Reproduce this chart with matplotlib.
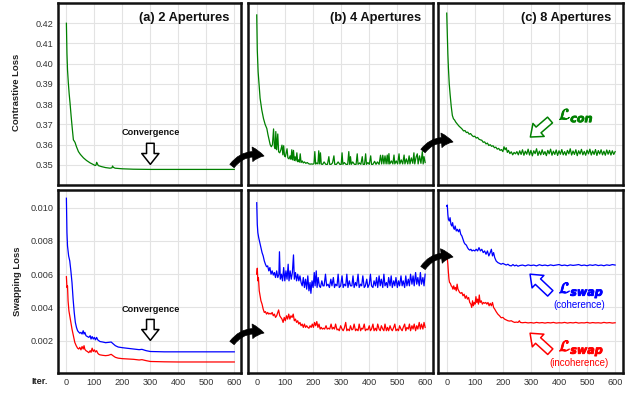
import matplotlib
matplotlib.use('Agg')
import matplotlib.pyplot as plt
from matplotlib.patches import FancyArrowPatch
import matplotlib.patheffects as pe

plt.rcParams['font.family'] = ['Liberation Sans', 'DejaVu Sans']

# ---------------- data (iteration, loss) ----------------
iter_ticks = [0, 100, 200, 300, 400, 500, 600]
con_ticks = [0.35, 0.36, 0.37, 0.38, 0.39, 0.40, 0.41, 0.42]
swap_ticks = [0.002, 0.004, 0.006, 0.008, 0.010]
panel_titles = ["(a) 2 Apertures", "(b) 4 Apertures", "(c) 8 Apertures"]

a_con = [(0,0.420),(2,0.405),(4,0.397),(7,0.3904),(10,0.385),(13,0.3806),(17,0.374),(21,0.368),
         (25,0.3624),(28,0.3618),(31,0.3611),(36,0.3590),(43,0.3566),(50,0.3552),(61,0.3535),
         (72,0.3522),(85,0.3510),(95,0.3503),(103,0.3497),(106,0.3500),(108,0.3513),(111,0.3505),
         (114,0.3497),(125,0.3492),(140,0.3487),(156,0.3484),(163,0.3486),(165,0.3495),(168,0.3488),
         (174,0.3484),(200,0.3481),(239,0.3479),(300,0.3478),(400,0.3478),(500,0.3478),(600,0.3478)]

b_con = [(0,0.4241),(2,0.4068),(5,0.3960),(8,0.3905),(12,0.3830),(18,0.3772),(24,0.3730),(30,0.3700),(36,0.3680),(40,0.3650),
         (44,0.3625),(48,0.3600),(52,0.3590),(56,0.3600),(60,0.3678),(63,0.3590),(66,0.3580),(68,0.3665),(71,0.3575),(75,0.3653),
         (78,0.3565),(82,0.3560),(86,0.3575),(90,0.3598),(93,0.3550),(96,0.3595),(99,0.3545),(102,0.3540),(105,0.3560),(108,0.3580),
         (111,0.3535),(115,0.3530),(119,0.3545),(122,0.3528),(125,0.3575),(128,0.3525),(131,0.3572),(134,0.3522),(137,0.3540),(140,0.3520),
         (143,0.3560),(146,0.3516),(149,0.3525),(152,0.3514),(155,0.3555),(158,0.3512),(162,0.3520),(166,0.3510),(170,0.3515),(175,0.3508),
         (180,0.3512),(185,0.3506),(190,0.3504),(195,0.3505),(200,0.3504),(204,0.3506),(207,0.3566),(210,0.3504),(214,0.3510),(218,0.3505),
         (221,0.3570),(224,0.3505),(227,0.3560),(230,0.3504),(235,0.3503),(240,0.3515),(246,0.3503),(252,0.3503),(257,0.3541),(260,0.3503),
         (265,0.3503),(270,0.3510),(275,0.3545),(278,0.3503),(284,0.3503),(290,0.3515),(296,0.3503),(301,0.3503),(304,0.3560),(307,0.3503),
         (312,0.3512),(318,0.3503),(324,0.3503),(328,0.3566),(331,0.3503),(334,0.3541),(337,0.3503),(342,0.3515),(348,0.3503),(354,0.3503),
         (358,0.3555),(361,0.3503),(366,0.3510),(371,0.3503),(376,0.3541),(379,0.3503),(384,0.3503),(388,0.3555),(391,0.3503),(396,0.3512),
         (401,0.3503),(406,0.3545),(409,0.3503),(414,0.3503),(420,0.3518),(425,0.3503),(430,0.3515),(436,0.3503),(441,0.3548),(445,0.3505),
         (449,0.3548),(453,0.3505),(457,0.3545),(461,0.3505),(465,0.3549),(468,0.3505),(471,0.3556),(474,0.3505),(480,0.3520),(485,0.3505),
         (489,0.3549),(492,0.3505),(497,0.3520),(502,0.3505),(507,0.3555),(510,0.3505),(515,0.3525),(520,0.3505),(525,0.3549),(528,0.3505),
         (533,0.3530),(538,0.3505),(543,0.3545),(546,0.3505),(551,0.3535),(556,0.3508),(560,0.3560),(563,0.3505),(568,0.3540),(572,0.3555),
         (575,0.3505),(580,0.3545),(585,0.3508),(590,0.3566),(593,0.3505),(596,0.3541),(600,0.3512)]

c_con = [(0,0.4250),(2,0.4150),(4,0.4050),(6,0.3980),(9,0.3900),(12,0.3850),(16,0.3790),(20,0.3745),(24,0.3728),(28,0.3722),
         (32,0.3712),(36,0.3705),(40,0.3698),(45,0.3690),(50,0.3684),(55,0.3677),(60,0.3668),(65,0.3670),(70,0.3660),(75,0.3662),
         (80,0.3652),(85,0.3655),(90,0.3646),(95,0.3640),(100,0.3642),(105,0.3633),(110,0.3636),(115,0.3627),(120,0.3624),(125,0.3622),
         (130,0.3612),(135,0.3614),(140,0.3604),(145,0.3608),(150,0.3596),(155,0.3600),(160,0.3592),(165,0.3595),(170,0.3585),(175,0.3588),
         (180,0.3578),(185,0.3582),(190,0.3572),(195,0.3576),(200,0.3566),(204,0.3590),(208,0.3575),(212,0.3585),(216,0.3562),(220,0.3572),
         (225,0.3556),(230,0.3565),(235,0.3550),(240,0.3562),(245,0.3555),(250,0.3566),(255,0.3550),(260,0.3570),(265,0.3552),(270,0.3575),
         (275,0.3548),(280,0.3568),(285,0.3553),(290,0.3578),(295,0.3549),(300,0.3572),(305,0.3545),(310,0.3570),(315,0.3556),(320,0.3580),
         (325,0.3547),(330,0.3568),(335,0.3550),(340,0.3575),(345,0.3552),(350,0.3566),(355,0.3546),(360,0.3572),(365,0.3555),(370,0.3578),
         (375,0.3548),(380,0.3568),(385,0.3552),(390,0.3574),(395,0.3547),(400,0.3570),(405,0.3553),(410,0.3576),(415,0.3550),(420,0.3566),
         (425,0.3548),(430,0.3572),(435,0.3555),(440,0.3580),(445,0.3549),(450,0.3569),(455,0.3552),(460,0.3575),(465,0.3546),(470,0.3570),
         (475,0.3554),(480,0.3577),(485,0.3550),(490,0.3567),(495,0.3548),(500,0.3573),(505,0.3555),(510,0.3578),(515,0.3549),(520,0.3569),
         (525,0.3552),(530,0.3576),(535,0.3547),(540,0.3571),(545,0.3554),(550,0.3575),(555,0.3550),(560,0.3568),(565,0.3548),(570,0.3574),
         (575,0.3553),(580,0.3572),(585,0.3549),(590,0.3570),(595,0.3552),(600,0.3566)]

a_coh = [(0,0.01057),(1,0.0095),(2,0.0085),(4,0.0077),(8,0.0071),(12,0.0068),(16,0.0062),(20,0.0055),(24,0.0045),(28,0.0037),
         (32,0.0031),(36,0.0028),(40,0.0026),(44,0.00252),(48,0.00245),(52,0.0025),(56,0.0024),(60,0.0026),(63,0.0024),(66,0.0025),
         (70,0.0023),(75,0.00225),(80,0.0022),(85,0.0023),(88,0.0021),(92,0.00225),(96,0.0021),(100,0.0022),(104,0.00205),(108,0.0022),
         (112,0.00205),(116,0.0020),(120,0.00195),(130,0.00192),(140,0.00188),(150,0.0019),(160,0.00192),(168,0.0018),(175,0.0017),(185,0.00162),
         (200,0.00158),(220,0.00154),(240,0.0015),(260,0.00146),(270,0.00148),(285,0.0014),(300,0.00135),(350,0.00133),(400,0.00133),(500,0.00133),
         (600,0.00133)]

a_inc = [(0,0.00585),(2,0.0052),(4,0.0053),(6,0.0044),(9,0.0038),(12,0.0035),(16,0.0031),(20,0.0027),(25,0.0023),(30,0.0019),
         (35,0.0017),(40,0.00155),(44,0.00150),(48,0.00160),(52,0.00145),(56,0.00165),(60,0.00150),(63,0.00170),(66,0.00148),(70,0.00140),
         (75,0.00135),(80,0.00128),(85,0.00140),(88,0.00130),(92,0.00155),(96,0.00135),(100,0.00145),(104,0.00132),(108,0.00140),(112,0.00125),
         (116,0.00118),(120,0.00115),(130,0.00112),(140,0.00110),(150,0.00112),(160,0.00118),(168,0.00108),(175,0.00100),(185,0.00095),(200,0.00092),
         (220,0.00090),(240,0.00088),(260,0.00084),(270,0.00086),(285,0.00080),(300,0.00075),(350,0.00073),(400,0.00072),(500,0.00072),(600,0.00072)]

b_coh = [(0,0.01030),(2,0.0090),(4,0.0085),(7,0.0082),(11,0.0079),(15,0.0076),(19,0.0073),(23,0.0071),(27,0.0068),(31,0.0066),
         (35,0.00645),(39,0.0065),(43,0.0062),(47,0.0064),(51,0.0060),(55,0.0062),(59,0.00595),(63,0.0061),(67,0.0058),(71,0.0062),
         (75,0.0058),(79,0.0060),(81,0.00735),(84,0.0057),(88,0.0060),(92,0.0056),(96,0.0064),(100,0.0056),(104,0.0062),(108,0.0057),
         (112,0.0066),(115,0.0056),(119,0.0062),(123,0.0057),(127,0.0061),(131,0.00716),(134,0.0057),(138,0.0061),(142,0.0056),(146,0.0060),
         (150,0.0056),(154,0.0059),(158,0.0055),(162,0.0053),(166,0.0058),(170,0.0052),(174,0.0057),(178,0.0051),(182,0.0059),(186,0.0050),
         (190,0.0055),(193,0.00485),(197,0.0056),(201,0.0052),(205,0.0061),(208,0.0053),(212,0.0062),(215,0.0052),(219,0.0058),(223,0.0053),
         (227,0.0052),(232,0.0056),(236,0.0053),(240,0.0053),(245,0.0060),(249,0.0053),(254,0.0054),(259,0.0052),(264,0.0057),(268,0.0053),
         (273,0.0058),(277,0.0052),(281,0.0054),(286,0.0053),(290,0.0060),(294,0.0052),(299,0.0053),(304,0.0059),(308,0.0052),(312,0.0054),
         (317,0.0053),(321,0.0060),(325,0.0052),(330,0.0056),(334,0.0053),(339,0.0053),(343,0.0059),(347,0.0052),(352,0.0055),(356,0.0053),
         (361,0.0060),(365,0.0052),(370,0.0054),(374,0.0053),(378,0.0059),(383,0.0052),(387,0.0053),(392,0.0057),(396,0.0052),(401,0.0054),
         (405,0.0060),(409,0.0053),(414,0.0052),(418,0.0056),(423,0.0053),(427,0.0058),(431,0.0052),(436,0.0059),(440,0.0053),(444,0.0057),
         (449,0.0052),(453,0.0060),(457,0.0053),(462,0.0055),(466,0.0052),(470,0.0058),(475,0.0053),(479,0.0059),(483,0.0052),(488,0.0056),
         (492,0.0053),(496,0.0058),(501,0.0052),(505,0.0056),(509,0.0053),(514,0.0059),(518,0.0053),(522,0.0056),(527,0.0052),(531,0.0059),
         (535,0.0053),(540,0.0057),(544,0.0053),(548,0.0060),(553,0.0054),(557,0.0059),(561,0.0053),(566,0.0061),(570,0.0054),(574,0.0058),
         (579,0.0053),(583,0.0061),(587,0.0054),(592,0.0058),(596,0.0053),(600,0.0060)]

b_inc = [(0,0.00600),(2,0.00636),(4,0.0056),(6,0.0058),(9,0.0050),(12,0.0047),(15,0.0044),(19,0.0042),(23,0.0039),(27,0.0037),
         (31,0.00375),(35,0.0036),(39,0.0037),(43,0.0036),(47,0.00365),(51,0.0036),(55,0.0037),(59,0.0035),(63,0.0036),(67,0.0034),
         (71,0.0035),(75,0.0037),(78,0.00385),(82,0.0035),(86,0.0034),(90,0.0033),(94,0.0031),(98,0.0034),(102,0.0032),(106,0.0035),
         (110,0.0033),(114,0.0036),(118,0.0033),(122,0.0035),(126,0.0034),(130,0.0036),(134,0.0032),(138,0.0033),(142,0.0031),(146,0.0032),
         (150,0.0030),(154,0.0031),(158,0.0029),(162,0.0030),(166,0.0028),(170,0.0030),(174,0.0028),(178,0.0029),(182,0.0028),(186,0.00275),
         (190,0.0029),(194,0.0028),(198,0.0030),(202,0.0028),(206,0.0031),(210,0.0029),(214,0.00315),(218,0.0028),(222,0.0030),(226,0.0027),
         (230,0.0028),(234,0.0027),(238,0.00275),(242,0.0027),(247,0.0029),(251,0.0027),(256,0.00275),(260,0.0027),(265,0.0030),(269,0.0027),
         (273,0.0028),(277,0.0027),(281,0.0030),(286,0.00265),(290,0.0027),(294,0.0026),(299,0.0029),(304,0.0027),(308,0.0026),(312,0.00275),
         (317,0.0031),(321,0.0026),(325,0.0027),(330,0.0026),(334,0.0029),(339,0.00265),(343,0.0027),(347,0.0030),(352,0.0026),(356,0.0027),
         (361,0.0026),(365,0.0030),(370,0.0026),(374,0.00275),(378,0.0027),(383,0.0030),(387,0.0026),(392,0.0027),(396,0.00265),(401,0.0029),
         (405,0.0026),(409,0.0027),(414,0.0030),(418,0.0026),(423,0.00275),(427,0.0026),(431,0.0030),(436,0.0027),(440,0.0026),(444,0.0029),
         (449,0.0027),(453,0.0026),(457,0.0030),(462,0.0026),(466,0.0028),(470,0.0026),(475,0.0029),(479,0.0027),(483,0.0026),(488,0.0028),
         (492,0.0030),(496,0.0026),(501,0.0027),(505,0.0026),(509,0.0029),(514,0.0027),(518,0.0026),(522,0.0028),(527,0.0030),(531,0.0026),
         (535,0.0028),(540,0.0027),(544,0.0030),(548,0.0026),(553,0.0029),(557,0.0027),(561,0.0030),(566,0.0026),(570,0.0029),(574,0.0027),
         (579,0.0031),(583,0.0027),(587,0.0030),(592,0.0027),(596,0.0031),(600,0.0028)]

c_coh = [(0,0.0101),(2,0.01016),(4,0.0096),(6,0.0093),(9,0.0092),(12,0.0094),(15,0.0090),(18,0.0089),(21,0.0091),(24,0.0088),
         (27,0.0087),(30,0.0089),(34,0.0086),(38,0.0087),(42,0.00855),(46,0.0087),(50,0.0084),(54,0.0083),(58,0.0081),(62,0.0079),
         (66,0.0078),(70,0.00775),(74,0.0076),(78,0.0075),(82,0.00745),(86,0.0075),(90,0.0074),(95,0.00745),(100,0.0074),(105,0.0075),
         (110,0.0074),(115,0.0076),(120,0.0074),(125,0.0075),(130,0.0073),(135,0.0074),(140,0.0072),(145,0.0074),(150,0.0071),(155,0.0073),
         (159,0.0075),(163,0.0071),(167,0.0073),(171,0.0070),(176,0.0068),(182,0.0067),(188,0.00665),(194,0.0066),(200,0.00665),(206,0.0066),
         (212,0.00655),(218,0.0066),(224,0.00652),(230,0.0065),(236,0.00658),(242,0.0065),(248,0.00655),(254,0.00648),(260,0.00652),(270,0.00655),
         (280,0.0065),(290,0.00656),(300,0.00652),(310,0.00655),(320,0.0065),(330,0.00657),(340,0.00652),(350,0.00655),(360,0.00651),(370,0.00656),
         (380,0.00652),(390,0.00655),(400,0.00658),(410,0.00652),(420,0.00655),(430,0.00651),(440,0.00656),(450,0.00653),(460,0.00655),(470,0.00658),
         (480,0.00652),(490,0.00655),(500,0.00651),(510,0.00656),(520,0.00653),(530,0.00657),(540,0.00652),(550,0.00655),(560,0.00651),(570,0.00656),
         (580,0.00653),(590,0.00658),(600,0.00655)]

c_inc = [(0,0.0069),(2,0.00696),(4,0.0066),(6,0.0061),(8,0.0057),(10,0.0055),(13,0.00545),(16,0.0053),(19,0.00525),(22,0.0051),
         (25,0.0053),(28,0.0051),(31,0.0052),(34,0.0050),(37,0.0054),(40,0.0051),(43,0.0050),(46,0.0049),(50,0.00485),(54,0.0049),
         (58,0.0047),(62,0.0048),(66,0.00455),(70,0.0047),(74,0.0045),(78,0.0046),(82,0.0043),(86,0.0042),(89,0.0040),(92,0.0044),
         (95,0.0041),(98,0.0043),(101,0.0042),(104,0.00465),(107,0.0043),(110,0.0045),(113,0.0042),(116,0.00475),(119,0.0043),(123,0.0044),
         (127,0.0042),(131,0.0043),(135,0.00425),(139,0.0043),(143,0.0042),(147,0.0043),(151,0.0041),(155,0.00425),(159,0.0041),(163,0.0043),
         (167,0.0040),(171,0.0039),(176,0.00375),(182,0.0036),(188,0.0035),(194,0.00338),(200,0.0034),(206,0.0033),(212,0.00325),(218,0.0032),
         (224,0.00318),(230,0.0032),(236,0.00314),(242,0.0031),(248,0.00312),(254,0.0031),(259,0.0032),(262,0.0031),(270,0.00308),(280,0.0031),
         (290,0.00307),(300,0.00309),(310,0.00306),(320,0.0031),(330,0.00307),(340,0.00309),(350,0.00306),(360,0.00309),(370,0.00307),(380,0.0031),
         (390,0.00306),(400,0.00308),(410,0.00307),(420,0.0031),(430,0.00306),(440,0.00309),(450,0.00307),(460,0.0031),(470,0.00306),(480,0.00308),
         (490,0.00307),(500,0.0031),(510,0.00306),(520,0.00309),(530,0.00307),(540,0.00308),(550,0.00306),(560,0.0031),(570,0.00307),(580,0.00309),
         (590,0.00306),(600,0.00308)]

# ---------------- figure ----------------
W, H = 634, 395
fig = plt.figure(figsize=(W / 100, H / 100), dpi=100)

def box(l, t, r, b):
    return [l / W, 1 - b / H, (r - l) / W, (b - t) / H]

top_boxes = [box(58, 3, 241, 185), box(248.3, 3, 433, 185), box(438.3, 3, 623, 185)]
bot_boxes = [box(58, 190, 241, 373), box(248.3, 190, 433, 373), box(438.3, 190, 623, 373)]
xlims = [(-30, 624), (-30, 628), (-30, 628)]

GREEN, BLUE, RED = '#008000', '#0000ff', '#ff0000'
LW = 0.9

def style(ax, xl, yl, yticks, yfmt, show_y, show_x):
    ax.set_xlim(*xl)
    ax.set_ylim(*yl)
    ax.set_xticks(iter_ticks)
    ax.set_yticks(yticks)
    ax.set_yticklabels([yfmt % v for v in yticks])
    ax.grid(True, color='#e3e3e3', lw=0.8)
    ax.set_axisbelow(True)
    for s in ax.spines.values():
        s.set_linewidth(1.8)
        s.set_color('#111111')
    ax.tick_params(length=0, labelsize=6.6, labelcolor='#333333', pad=3.5,
                   labelleft=show_y, labelbottom=show_x)

con_series = [a_con, b_con, c_con]
coh_series = [a_coh, b_coh, c_coh]
inc_series = [a_inc, b_inc, c_inc]

top_axes, bot_axes = [], []
for i in range(3):
    ax = fig.add_axes(top_boxes[i])
    xs, ys = zip(*con_series[i])
    ax.plot(xs, ys, color=GREEN, lw=LW)
    style(ax, xlims[i], (0.3401, 0.4300), con_ticks, '%.2f', i == 0, False)
    ax.text(0.935, 0.918, panel_titles[i], transform=ax.transAxes, ha='right', va='center',
            fontsize=9.3, fontweight='bold', color='#111111')
    top_axes.append(ax)

    ax2 = fig.add_axes(bot_boxes[i])
    xs, ys = zip(*coh_series[i])
    ax2.plot(xs, ys, color=BLUE, lw=LW)
    xs, ys = zip(*inc_series[i])
    ax2.plot(xs, ys, color=RED, lw=LW)
    style(ax2, xlims[i], (0.000057, 0.011065), swap_ticks, '%.3f', i == 0, True)
    bot_axes.append(ax2)

# axis labels
fig.text(17 / W, 1 - 92 / H, 'Contrastive Loss', rotation=90, ha='center', va='center',
         fontsize=6.8, fontweight='bold', color='#222222')
fig.text(17 / W, 1 - 281 / H, 'Swapping Loss', rotation=90, ha='center', va='center',
         fontsize=6.8, fontweight='bold', color='#222222')
fig.text(40 / W, 1 - 381 / H, 'Iter.', ha='center', va='center',
         fontsize=6.6, fontweight='bold', color='#222222')

# hollow arrows
def hollow(ax, tail, tip, color, hw=0.95, hl=0.6, tw=0.42, ms=13):
    ax.annotate('', xy=tip, xytext=tail,
                arrowprops=dict(arrowstyle='simple,head_length=%g,head_width=%g,tail_width=%g' % (hl, hw, tw),
                                fc='white', ec=color, lw=1.1, mutation_scale=ms,
                                shrinkA=0, shrinkB=0))

axa, axA = top_axes[0], bot_axes[0]
axa.text(300, 0.3658, 'Convergence', ha='center', va='center', fontsize=6.6, fontweight='bold', color='#111111')
hollow(axa, (300, 0.3607), (300, 0.3503), 'black')
axA.text(300, 0.0039, 'Convergence', ha='center', va='center', fontsize=6.6, fontweight='bold', color='#111111')
hollow(axA, (300, 0.00328), (300, 0.00202), 'black')

# loss labels in panel (c)
axc, axC = top_axes[2], bot_axes[2]
stroke = lambda c: [pe.withStroke(linewidth=0.6, foreground=c)]
hollow(axc, (368, 0.3722), (298, 0.3638), GREEN)
axc.text(400, 0.3745, r'$\mathcal{L}_{\mathbfit{con}}$', ha='left', va='center', fontsize=11.5,
         color=GREEN, math_fontfamily='dejavusans', path_effects=stroke(GREEN))
hollow(axC, (369, 0.00485), (297, 0.0060), BLUE)
axC.text(400, 0.00505, r'$\mathcal{L}_{\mathbfit{swap}}$', ha='left', va='center', fontsize=11.5,
         color=BLUE, math_fontfamily='dejavusans', path_effects=stroke(BLUE))
axC.text(472, 0.00412, '(coherence)', ha='center', va='center', fontsize=7, color=BLUE)
hollow(axC, (369, 0.00134), (297, 0.00245), RED)
axC.text(400, 0.00156, r'$\mathcal{L}_{\mathbfit{swap}}$', ha='left', va='center', fontsize=11.5,
         color=RED, math_fontfamily='dejavusans', path_effects=stroke(RED))
axC.text(472, 0.00064, '(incoherence)', ha='center', va='center', fontsize=7, color=RED)

# black curved arrows between panels
def link(p0, p1):
    a = FancyArrowPatch((p0[0] / W, 1 - p0[1] / H), (p1[0] / W, 1 - p1[1] / H),
                        transform=fig.transFigure, connectionstyle='arc3,rad=-0.35',
                        arrowstyle='simple,head_length=0.6,head_width=0.75,tail_width=0.28',
                        mutation_scale=14, fc='black', ec='black', lw=0.5, zorder=10,
                        shrinkA=0, shrinkB=0)
    fig.add_artist(a)

link((232, 166), (264, 156))
link((423, 151), (453, 142))
link((232, 343), (264, 333))
link((423, 268), (453, 257))

fig.savefig('out.png', dpi=100)
